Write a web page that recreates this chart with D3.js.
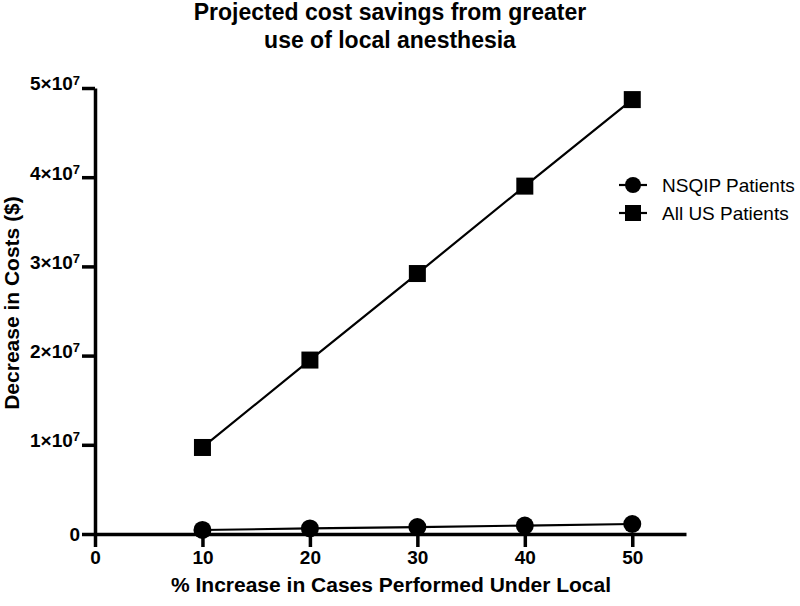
<html>
<head>
<script src="https://d3js.org/d3.v7.min.js"></script>
<style>
  body { margin: 0; background: white; }
  text { fill: black; }
</style>
</head>
<body>
<svg id="chart" width="800" height="606"></svg>
<script>
// data
var percentIncrease = [10, 20, 30, 40, 50];
var nsqipSavings = [450000, 620000, 780000, 950000, 1120000];
var allUsSavings = [9700000, 19500000, 29200000, 39000000, 48700000];
var xTicks = [0, 10, 20, 30, 40, 50];
var yTicks = [0, 1e7, 2e7, 3e7, 4e7, 5e7];
var seriesNames = ["NSQIP Patients", "All US Patients"];

var svg = d3.select("#chart");
var tickFont = "'Liberation Sans Narrow', 'Liberation Sans', Arial, sans-serif";

var x = d3.scaleLinear().domain([0, 55]).range([95, 686]);
var y = d3.scaleLinear().domain([0, 5e7]).range([534, 88]);

// title
var title = svg.append("text")
    .attr("x", 390)
    .attr("text-anchor", "middle")
    .style("font-family", "'Liberation Sans', Arial, sans-serif")
    .style("font-weight", "bold")
    .style("font-size", "23px");
title.append("tspan").attr("x", 390).attr("y", 20).text("Projected cost savings from greater");
title.append("tspan").attr("x", 390).attr("y", 48).text("use of local anesthesia");

// axes
var xAxis = svg.append("g")
    .attr("transform", "translate(0,534)")
    .call(d3.axisBottom(x).tickValues(xTicks).tickSize(13).tickPadding(4).tickSizeOuter(0));

var yAxis = svg.append("g")
    .attr("transform", "translate(95,0)")
    .call(d3.axisLeft(y).tickValues(yTicks).tickSize(13).tickPadding(2).tickSizeOuter(0)
        .tickFormat(function() { return ""; }));

[xAxis, yAxis].forEach(function(g) {
    g.select(".domain").style("stroke", "black").style("stroke-width", "3.5px");
    g.selectAll(".tick line").style("stroke", "black").style("stroke-width", "3.5px");
    g.selectAll("text")
        .style("font-family", tickFont)
        .style("font-weight", "bold")
        .style("font-size", "19px");
});

// y tick labels written as a×10^7
yAxis.selectAll(".tick").each(function(d) {
    var t = d3.select(this).select("text")
        .attr("x", -15)
        .attr("dy", d == 0 ? "0.35em" : "0.1em");
    if (d == 0) {
        t.text("0");
    } else {
        t.text("");
        t.append("tspan").text((d / 1e7) + "×10");
        t.append("tspan").attr("dy", "-0.45em").style("font-size", "13px").text("7");
    }
});

// axis titles
svg.append("text")
    .attr("x", 391)
    .attr("y", 592)
    .attr("text-anchor", "middle")
    .style("font-family", tickFont)
    .style("font-weight", "bold")
    .style("font-size", "21px")
    .text("% Increase in Cases Performed  Under Local");

svg.append("text")
    .attr("transform", "translate(19,303) rotate(-90)")
    .attr("text-anchor", "middle")
    .style("font-family", tickFont)
    .style("font-weight", "bold")
    .style("font-size", "21px")
    .text("Decrease in Costs ($)");

// lines and markers
var line = d3.line()
    .x(function(d, i) { return x(percentIncrease[i]); })
    .y(function(d) { return y(d); });

[nsqipSavings, allUsSavings].forEach(function(values) {
    svg.append("path")
        .datum(values)
        .attr("d", line)
        .attr("fill", "none")
        .attr("stroke", "black")
        .attr("stroke-width", 2.2);
});

svg.append("g").selectAll("circle")
    .data(nsqipSavings)
    .enter().append("circle")
        .attr("cx", function(d, i) { return x(percentIncrease[i]); })
        .attr("cy", function(d) { return y(d); })
        .attr("r", 9)
        .attr("fill", "black");

svg.append("g").selectAll("rect")
    .data(allUsSavings)
    .enter().append("rect")
        .attr("x", function(d, i) { return x(percentIncrease[i]) - 8.5; })
        .attr("y", function(d) { return y(d) - 8.5; })
        .attr("width", 17)
        .attr("height", 17)
        .attr("fill", "black");

// legend
var legend = svg.append("g").selectAll("g")
    .data(seriesNames)
    .enter().append("g")
        .attr("transform", function(d, i) { return "translate(633," + (185 + i * 28) + ")"; });

legend.append("line")
    .attr("x1", -14).attr("x2", 14)
    .attr("stroke", "black").attr("stroke-width", 2.2);

legend.each(function(d, i) {
    var g = d3.select(this);
    if (i == 0) {
        g.append("circle").attr("r", 8).attr("fill", "black");
    } else {
        g.append("rect").attr("x", -8).attr("y", -8).attr("width", 16).attr("height", 16).attr("fill", "black");
    }
});

legend.append("text")
    .attr("x", 29)
    .attr("dy", "0.35em")
    .style("font-family", "'Liberation Sans', Arial, sans-serif")
    .style("font-size", "19px")
    .text(function(d) { return d; });
</script>
</body>
</html>
